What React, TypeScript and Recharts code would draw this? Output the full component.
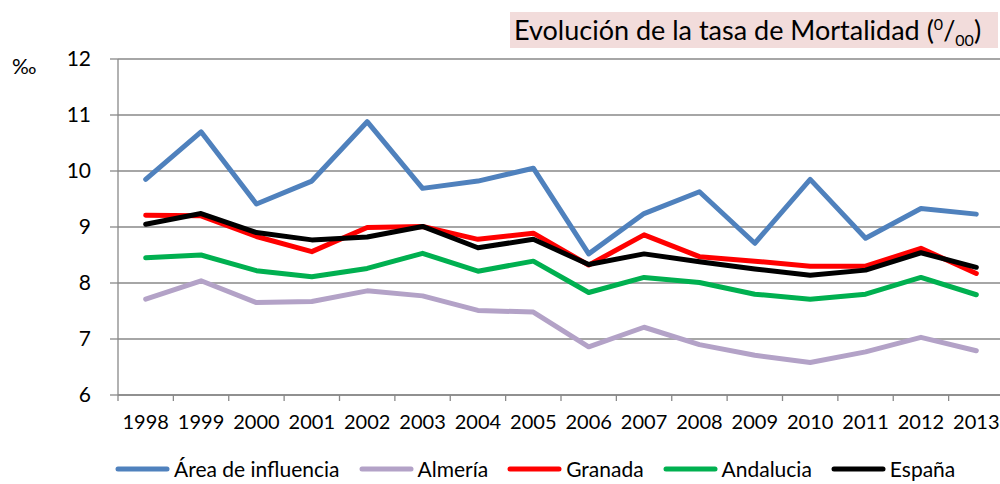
import { LineChart, Line, XAxis, YAxis, CartesianGrid, Legend } from 'recharts'

const font = 'Lato, "Open Sans", sans-serif'
const gridColor = '#898989'

const years = ['1998', '1999', '2000', '2001', '2002', '2003', '2004', '2005', '2006', '2007', '2008', '2009', '2010', '2011', '2012', '2013']
const areaInfluencia = [9.85, 10.7, 9.41, 9.82, 10.88, 9.69, 9.82, 10.05, 8.52, 9.24, 9.63, 8.71, 9.85, 8.8, 9.33, 9.23]
const almeria = [7.71, 8.04, 7.65, 7.67, 7.86, 7.77, 7.51, 7.48, 6.86, 7.21, 6.9, 6.71, 6.58, 6.77, 7.03, 6.79]
const granada = [9.21, 9.2, 8.83, 8.56, 8.99, 9.01, 8.78, 8.89, 8.32, 8.86, 8.47, 8.39, 8.3, 8.3, 8.62, 8.17]
const andalucia = [8.45, 8.5, 8.22, 8.11, 8.26, 8.53, 8.21, 8.39, 7.83, 8.1, 8.01, 7.8, 7.71, 7.8, 8.1, 7.79]
const espana = [9.05, 9.24, 8.9, 8.77, 8.82, 9.01, 8.63, 8.78, 8.33, 8.52, 8.38, 8.25, 8.14, 8.23, 8.54, 8.28]
const yTicks = [6, 7, 8, 9, 10, 11, 12]

const series = [
  { key: 'area', name: 'Área de influencia', color: '#4F81BD', values: areaInfluencia },
  { key: 'almeria', name: 'Almería', color: '#B3A2C7', values: almeria },
  { key: 'granada', name: 'Granada', color: '#FF0000', values: granada },
  { key: 'andalucia', name: 'Andalucia', color: '#00B050', values: andalucia },
  { key: 'espana', name: 'España', color: '#000000', values: espana },
]

const data = years.map((year, i) => {
  const row: Record<string, string | number> = { year }
  series.forEach(s => { row[s.key] = s.values[i] })
  return row
})

// keep legend in series order (recharts sorts by name otherwise)
const legendOrder = (item: any) => series.findIndex(s => s.name === item.value)

function YearTick(props: any) {
  const { x, y, payload } = props
  const half = payload?.offset ?? 27.7
  return (
    <g>
      <line x1={x - half} x2={x - half} y1={y} y2={y + 6} stroke={gridColor} strokeWidth={1.3} />
      <text x={x} y={y + 34} textAnchor="middle" fontSize={20} fontFamily={font} fill="#000">{payload.value}</text>
    </g>
  )
}

function LegendRow({ payload }: any) {
  return (
    <div style={{ display: 'flex', alignItems: 'center', height: 30, paddingLeft: 115, fontFamily: font, fontSize: 21, lineHeight: '24px', color: '#000' }}>
      {(payload || []).map((p: any) => (
        <div key={p.value} style={{ display: 'flex', alignItems: 'center', marginRight: 19 }}>
          <svg width={55} height={8} style={{ marginRight: 4 }}>
            <line x1={3} x2={52} y1={4} y2={4} stroke={p.color} strokeWidth={5} strokeLinecap="round" />
          </svg>
          <span>{p.value}</span>
        </div>
      ))}
    </div>
  )
}

export default function App() {
  return (
    <div style={{ position: 'absolute', left: 0, top: 0, width: 1000, height: 484, overflow: 'hidden', background: '#fff' }}>
      <div style={{
        position: 'absolute', left: 510, top: 12, width: 488, height: 36, background: '#F2DCDB',
        fontFamily: font, fontSize: 27, lineHeight: '36px', paddingLeft: 4, boxSizing: 'border-box', color: '#000', whiteSpace: 'nowrap',
      }}>
        Evolución de la tasa de Mortalidad (<sup style={{ fontSize: 16, lineHeight: 0 }}>0</sup>/<sub style={{ fontSize: 16, lineHeight: 0 }}>00</sub>)
      </div>
      <LineChart width={1010} height={484} data={data} margin={{ top: 59, right: 6, left: 0, bottom: 0 }}>
        <CartesianGrid vertical={false} stroke={gridColor} strokeWidth={1.3} />
        <XAxis
          dataKey="year"
          scale="band"
          interval={0}
          height={59}
          stroke={gridColor}
          strokeWidth={1.3}
          tickSize={0}
          tickMargin={0}
          tick={<YearTick />}
        />
        <YAxis
          domain={[6, 12]}
          ticks={yTicks}
          width={118}
          stroke={gridColor}
          strokeWidth={1.3}
          tickSize={8}
          tickMargin={19}
          tick={{ fontSize: 21, fontFamily: font, fill: '#000' }}
          label={{
            content: (lp: any) => (
              <text x={12} y={(lp.viewBox?.y ?? 59) + 15} fontSize={21} fontFamily={font} fill="#000">‰</text>
            ),
          }}
        />
        {series.map(s => (
          <Line
            key={s.key}
            dataKey={s.key}
            name={s.name}
            type="linear"
            stroke={s.color}
            strokeWidth={5}
            strokeLinejoin="round"
            strokeLinecap="round"
            dot={false}
            activeDot={false}
            isAnimationActive={false}
          />
        ))}
        <Legend verticalAlign="bottom" height={30} itemSorter={legendOrder} content={<LegendRow />} />
      </LineChart>
    </div>
  )
}
